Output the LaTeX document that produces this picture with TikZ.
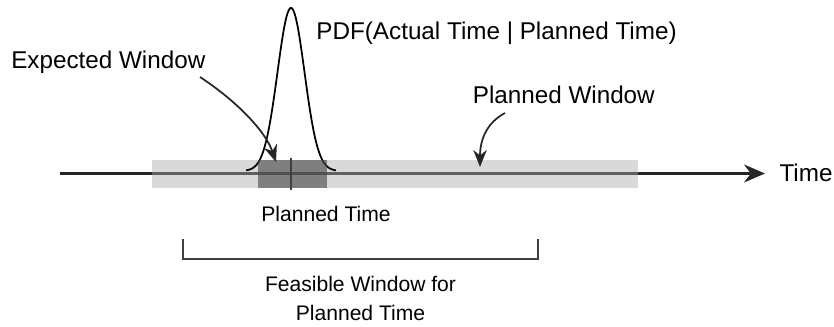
\documentclass[tikz,border=0pt]{standalone}
\usepackage{fontspec}
\setmainfont{Liberation Sans}
\usetikzlibrary{arrows.meta}

\begin{document}
\begin{tikzpicture}[
    x=0.02cm, y=-0.02cm,
    biglabel/.style={inner sep=0pt, font=\fontsize{13.8}{16}\selectfont},
    smalllabel/.style={inner sep=0pt, align=center, font=\fontsize{12}{16.4}\selectfont},
    axis/.style={line width=0.045cm, black!85, -{Stealth[length=0.42cm, width=0.36cm]}},
    pointer/.style={line width=0.035cm, black!85, -{Stealth[length=0.34cm, width=0.27cm]}},
    lightwin/.style={fill=black!34, fill opacity=0.44},
    darkwin/.style={fill=black!71.5, fill opacity=0.62}
]
\useasboundingbox (0,0) rectangle (834,326);

% time axis
\coordinate (tstart) at (60,173.5);
\coordinate (tend) at (765,173.5);
\draw [axis] (tstart) -- (tend);

% windows
\fill [lightwin] (152,160) rectangle (638,188);
\draw [line width=0.035cm] plot[domain=-45:45, samples=120, smooth]
    ({291+\x}, {171-163*exp(-(\x*\x)/364.5)});
\fill [darkwin] (258,160) rectangle (327,188);
\draw [line width=0.04cm, black!75] (291,158) -- (291,190);

% labels
\node (pdf) [biglabel, anchor=base] at (496.5,39) {PDF(Actual Time | Planned Time)};
\node (ewin) [biglabel, anchor=base] at (108.3,68.3) {Expected Window};
\node (pwin) [biglabel, anchor=base] at (563.8,103.3) {Planned Window};
\node (time) [biglabel, anchor=base] at (806,181.6) {Time};
\node (ptime) [smalllabel, anchor=base] at (326,221.7) {Planned Time};
\node (fwin) [smalllabel, anchor=base] at (360.5,320) {Feasible Window for\\Planned Time};

% pointers
\coordinate (ewstart) at (200,77);
\coordinate (ewtip) at (276,162);
\coordinate (pwstart) at (505,113);
\coordinate (pwtip) at (480,167);
\draw [pointer] (ewstart) .. controls (235,100) and (265,130) .. (ewtip);
\draw [pointer] (pwstart) .. controls (488,122) and (480,138) .. (pwtip);

% feasible window bracket
\draw [line width=0.03cm, black!75] (183,239) |- (538,259) -- (538,239);

\end{tikzpicture}
\end{document}
